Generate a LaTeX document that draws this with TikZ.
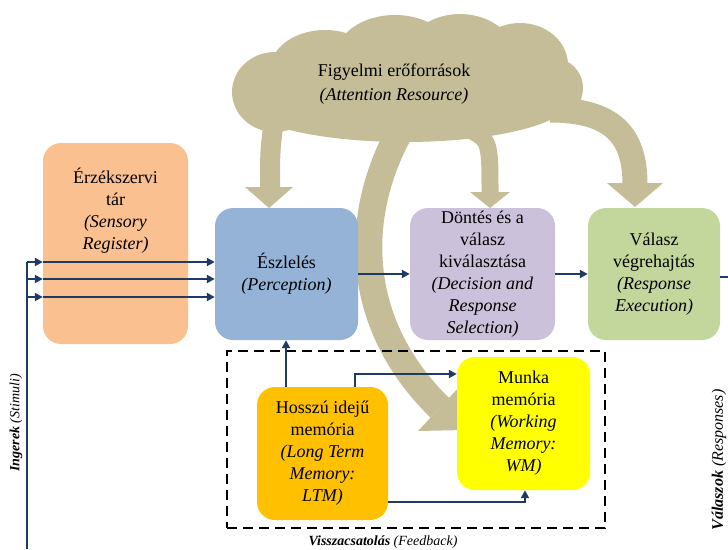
\documentclass[tikz,border=0pt]{standalone}
\usepackage{fontspec}
\setmainfont{LiberationSerif-Regular.ttf}[
  BoldFont=LiberationSerif-Bold.ttf,
  ItalicFont=LiberationSerif-Italic.ttf,
  BoldItalicFont=LiberationSerif-BoldItalic.ttf]
\usetikzlibrary{arrows.meta}

\definecolor{cloudtan}{HTML}{C4BD97}
\definecolor{sensfill}{HTML}{FAC090}
\definecolor{percfill}{HTML}{95B3D7}
\definecolor{decfill}{HTML}{CCC1DA}
\definecolor{respfill}{HTML}{C3D69B}
\definecolor{ltmfill}{HTML}{FFC000}
\definecolor{wmfill}{HTML}{FFFF00}
\definecolor{flow}{HTML}{1F3B63}

\newcommand\boxfont{\fontsize{18}{22}\selectfont}

\tikzset{
  stagebox/.style={rounded corners=18pt, inner sep=0pt, align=center, font=\boxfont},
  flowarrow/.style={draw=flow, line width=2.4pt, -{Triangle[length=8pt,width=8pt]}},
  flowline/.style={draw=flow, line width=2.4pt},
  band/.style={draw=cloudtan, line width=#1, line cap=butt},
  sidelabel/.style={rotate=90, inner sep=0pt}
}

\begin{document}
\begin{tikzpicture}[x=1pt, y=-1pt]
\useasboundingbox (0,0) rectangle (728,549);

% ---- attention resource cloud ----
\begin{scope}[fill=cloudtan]
  \fill (275,92) ellipse [x radius=43, y radius=40];
  \fill (325,70) ellipse [x radius=55, y radius=40];
  \fill (395,58) ellipse [x radius=60, y radius=43];
  \fill (460,57) ellipse [x radius=55, y radius=43];
  \fill (520,65) ellipse [x radius=48, y radius=42];
  \fill (553,88) ellipse [x radius=30, y radius=30];
  \fill (405,100) ellipse [x radius=165, y radius=42];
\end{scope}

% broad arrows leaving the cloud
\coordinate (tipP) at (269,208);
\coordinate (tipD) at (490,208);
\coordinate (tipR) at (635,207);
\draw[band=20pt] (275,112) .. controls (270,150) .. (270,188);
\fill[cloudtan] (tipP) ++(-24,-21) -- ++(48,0) -- (tipP) -- cycle;
\draw[band=17pt] (466,128) .. controls (490,140) .. (490,193);
\fill[cloudtan] (tipD) ++(-20,-16) -- ++(40,0) -- (tipD) -- cycle;
\draw[band=25pt] (550,110) .. controls (612,110) and (635,135) .. (635,184);
\fill[cloudtan] (tipR) ++(-28,-24) -- ++(56,0) -- (tipR) -- cycle;
% long curved band down to the working memory
\draw[band=27pt] (398,135) .. controls (355,215) and (352,322) .. (440,408);
\fill[cloudtan] (418,431) -- (462,384) -- (464,430) -- cycle;

\node[font=\fontsize{18}{24}\selectfont, align=center, inner sep=0pt] (cloudtxt) at (394,84)
  {Figyelmi erőforrások\\\textit{(Attention Resource)}};

% ---- processing stages ----
\node[stagebox, fill=sensfill, minimum width=145pt, minimum height=201pt] (sens) at (115.5,243.5) {};
\node[font=\boxfont, align=center, inner sep=0pt] (senstxt) at (115.5,211)
  {Érzékszervi\\tár\\\textit{(Sensory}\\\textit{Register)}};
\node[stagebox, fill=percfill, minimum width=143pt, minimum height=132pt] (perc) at (286.5,274)
  {Észlelés\\\textit{(Perception)}};
\node[stagebox, fill=decfill, minimum width=145pt, minimum height=132pt] (dec) at (482.5,274)
  {Döntés és a\\válasz\\kiválasztása\\\textit{(Decision and}\\\textit{Response}\\\textit{Selection)}};
\node[stagebox, fill=respfill, minimum width=132pt, minimum height=132pt] (resp) at (654,274)
  {Válasz\\végrehajtás\\\textit{(Response}\\\textit{Execution)}};
\node[stagebox, fill=ltmfill, minimum width=131pt, minimum height=133pt] (ltm) at (322.5,453.5)
  {Hosszú idejű\\memória\\\textit{(Long Term}\\\textit{Memory:}\\\textit{LTM)}};
\node[stagebox, fill=wmfill, minimum width=133pt, minimum height=133pt] (wm) at (523.5,423.5)
  {Munka\\memória\\\textit{(Working}\\\textit{Memory:}\\\textit{WM)}};

% ---- feedback frame ----
\node[draw=black, line width=2.5pt, dash pattern=on 10pt off 6pt, inner sep=0pt,
      minimum width=378pt, minimum height=177pt] (fb) at (416,439.5) {};
\node[font=\fontsize{14}{16}\selectfont, inner sep=0pt] (fbtxt) at (383,542)
  {\textbf{\textit{Visszacsatolás}} \textit{(Feedback)}};

% ---- stimuli input ----
\coordinate (sbase) at (27,549);
\coordinate (s1) at (27,262);
\coordinate (s2) at (27,279);
\coordinate (s3) at (27,297);
\draw[flowline] (sbase) -- (s1);
\foreach \s in {s1,s2,s3} {
  \draw[flowarrow] (\s) -- (\s -| sens.west);
  \draw[flowarrow] (\s -| sens.west) -- (\s -| perc.west);
}

% ---- flow between stages ----
\coordinate (mid) at (0,274);
\coordinate (outy) at (0,277);
\coordinate (outx) at (730,277);
\draw[flowarrow] (perc.east |- mid) -- (dec.west |- mid);
\draw[flowarrow] (dec.east |- mid) -- (resp.west |- mid);
\draw[flowline] (resp.east |- outy) -- (outx);

% ---- memory links ----
\coordinate (up) at (286,0);
\coordinate (k1) at (355,374);
\coordinate (k2) at (525,502);
\draw[flowarrow] (ltm.north -| up) -- (perc.south -| up);
\draw[flowarrow] (ltm.north -| k1) |- (wm.west |- k1);
\draw[flowarrow] (ltm.east |- k2) -| (wm.south -| k2);

% ---- side labels ----
\node[sidelabel, font=\fontsize{14}{16}\selectfont] (stim) at (16,423)
  {\textbf{\textit{Ingerek}} \textit{(Stimuli)}};
\node[sidelabel, font=\fontsize{16}{18}\selectfont] (respl) at (719,460)
  {\textbf{\textit{Válaszok}} \textit{(Responses)}};
\end{tikzpicture}
\end{document}
